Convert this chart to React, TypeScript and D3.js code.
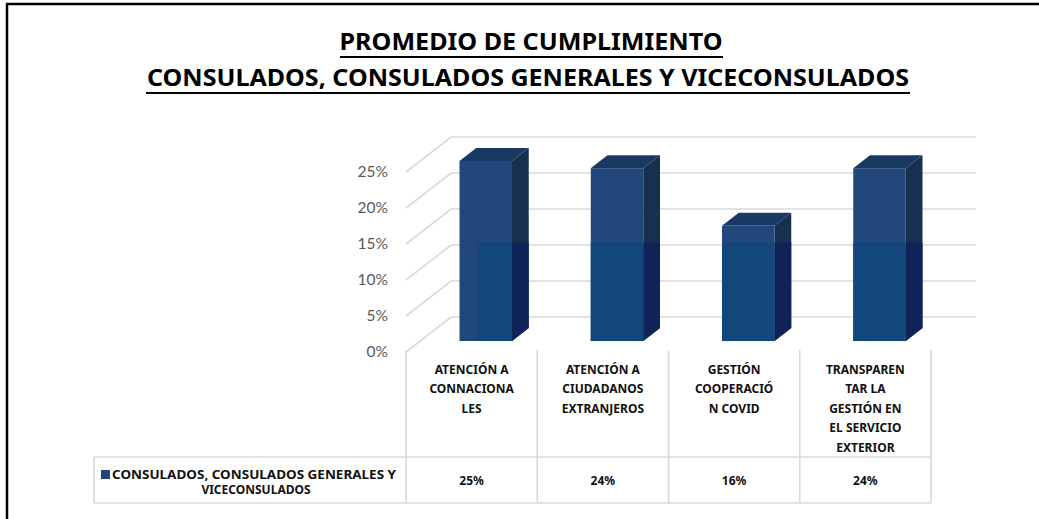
import React from "react";
import * as d3 from "d3";

const categories = [
  ["ATENCIÓN A", "CONNACIONA", "LES"],
  ["ATENCIÓN A", "CIUDADANOS", "EXTRANJEROS"],
  ["GESTIÓN", "COOPERACIÓ", "N COVID"],
  ["TRANSPAREN", "TAR LA", "GESTIÓN EN", "EL SERVICIO", "EXTERIOR"],
];
const categoryKeys = ["c1", "c2", "c3", "c4"];
const values = [0.25, 0.24, 0.16, 0.24];
const valueLabels = ["25%", "24%", "16%", "24%"];
const yTicks = [0, 0.05, 0.1, 0.15, 0.2, 0.25];
const seriesName = ["CONSULADOS, CONSULADOS GENERALES Y", "VICECONSULADOS"];
const titleLines = ["PROMEDIO DE CUMPLIMIENTO", "CONSULADOS, CONSULADOS GENERALES Y VICECONSULADOS"];

const W = 1039;
const H = 519;
const FONT = "Lato, 'Open Sans', sans-serif";
const BOLDFONT = "'Noto Sans', 'Open Sans', sans-serif";
const TITLEFONT = "'Liberation Sans Narrow', 'Noto Sans', sans-serif";
const GRID = "#d9d9d9";

export default function App() {
  const x = d3.scaleBand<string>().domain(categoryKeys).range([406, 931]).paddingInner(0).paddingOuter(0);
  const y = d3.scaleLinear().domain([0, 0.25]).range([352, 172]);
  const D = { dx: 45, dy: -35 };
  const f1 = 0.314;
  const f2 = 0.686;
  const bw = x.bandwidth();
  const barW = bw * 0.4;
  const pct = d3.format(".0%");

  const bars = (lower: boolean) =>
    values.map((v, i) => {
      const x0 = (x(categoryKeys[i]) as number) + bw * 0.3 + D.dx * f1;
      const yT = y(v) + D.dy * f1;
      const yB = y(0) + D.dy * f1;
      const ddx = D.dx * (f2 - f1);
      const ddy = D.dy * (f2 - f1);
      const front = lower ? "#13467a" : "#21477b";
      const side = lower ? "#102358" : "#17304f";
      const top = "#183a62";
      return (
        <g key={i}>
          <polygon
            points={`${x0},${yT} ${x0 + ddx},${yT + ddy} ${x0 + barW + ddx},${yT + ddy} ${x0 + barW},${yT}`}
            fill={top}
          />
          <polygon
            points={`${x0 + barW},${yT} ${x0 + barW + ddx},${yT + ddy} ${x0 + barW + ddx},${yB + ddy} ${x0 + barW},${yB}`}
            fill={side}
          />
          <rect x={x0} y={yT} width={barW} height={yB - yT} fill={front} />
        </g>
      );
    });

  const tableTop = 350;
  const rowY = 457;
  const tableBottom = 503;
  const tableLeft = 94;

  return (
    <svg
      width={W}
      height={H}
      style={{ position: "absolute", left: 0, top: 0, background: "#fff" }}
      fontFamily={FONT}
    >
      <defs>
        <clipPath id="lowerClip">
          <rect x={477} y={242.5} width={500} height={150} />
        </clipPath>
      </defs>
      <rect x={0} y={0} width={W} height={H} fill="#fff" />
      {/* frame */}
      <line x1={6} y1={4} x2={W} y2={4} stroke="#000" strokeWidth={2.5} />
      <line x1={7} y1={4} x2={7} y2={H} stroke="#000" strokeWidth={2.5} />

      {/* title */}
      <text x={531} y={50} textAnchor="middle" fontSize={23} fontWeight="bold" fill="#000" fontFamily={TITLEFONT} textLength={383} lengthAdjust="spacingAndGlyphs">
        {titleLines[0]}
      </text>
      <line x1={340} x2={723} y1={57} y2={57} stroke="#000" strokeWidth={2} />
      <text x={528} y={86} textAnchor="middle" fontSize={23} fontWeight="bold" fill="#000" fontFamily={TITLEFONT} textLength={762} lengthAdjust="spacingAndGlyphs">
        {titleLines[1]}
      </text>
      <line x1={146} x2={910} y1={93} y2={93} stroke="#000" strokeWidth={2} />

      {/* gridlines: side wall + back wall */}
      {yTicks.map((t) => (
        <polyline
          key={t}
          points={`${x.range()[0]},${y(t)} ${x.range()[0] + D.dx},${y(t) + D.dy} ${x.range()[1] + D.dx},${y(t) + D.dy}`}
          fill="none"
          stroke={GRID}
          strokeWidth={1.6}
        />
      ))}

      {/* y axis labels */}
      {yTicks.map((t) => (
        <text key={t} x={388} y={y(t)} dy="0.35em" textAnchor="end" fontSize={15.5} fill="#595959">
          {pct(t)}
        </text>
      ))}

      {/* bars */}
      {bars(false)}
      <g clipPath="url(#lowerClip)">{bars(true)}</g>

      {/* data table */}
      {[...categoryKeys.map((k) => x(k) as number), x.range()[1]].map((xx, i) => (
        <line key={i} x1={xx} x2={xx} y1={tableTop} y2={tableBottom} stroke={GRID} strokeWidth={1.6} />
      ))}
      <line x1={tableLeft} x2={tableLeft} y1={rowY} y2={tableBottom} stroke={GRID} strokeWidth={1.6} />
      <line x1={tableLeft} x2={x.range()[1]} y1={rowY} y2={rowY} stroke={GRID} strokeWidth={1.6} />
      <line x1={tableLeft} x2={x.range()[1]} y1={tableBottom} y2={tableBottom} stroke={GRID} strokeWidth={1.6} />

      {categories.map((lines, i) => {
        const cx = (x(categoryKeys[i]) as number) + bw / 2;
        return (
          <text key={i} textAnchor="middle" fontSize={12} fontWeight="bold" fill="#111" fontFamily={BOLDFONT}>
            {lines.map((l, j) => (
              <tspan key={j} x={cx} y={373.5 + j * 19.5}>
                {l}
              </tspan>
            ))}
          </text>
        );
      })}
      {valueLabels.map((l, i) => (
        <text
          key={i}
          x={(x(categoryKeys[i]) as number) + bw / 2}
          y={485}
          textAnchor="middle"
          fontSize={12}
          fontWeight="bold"
          fill="#111"
          fontFamily={BOLDFONT}
        >
          {l}
        </text>
      ))}

      {/* legend key */}
      <rect x={101} y={470} width={9} height={9} fill="#21477b" />
      <text x={254} y={479} textAnchor="middle" fontSize={12} fontWeight="bold" fill="#111" fontFamily={BOLDFONT} textLength={284} lengthAdjust="spacingAndGlyphs">
        {seriesName[0]}
      </text>
      <text x={256} y={494} textAnchor="middle" fontSize={12} fontWeight="bold" fill="#111" fontFamily={BOLDFONT}>
        {seriesName[1]}
      </text>
    </svg>
  );
}
